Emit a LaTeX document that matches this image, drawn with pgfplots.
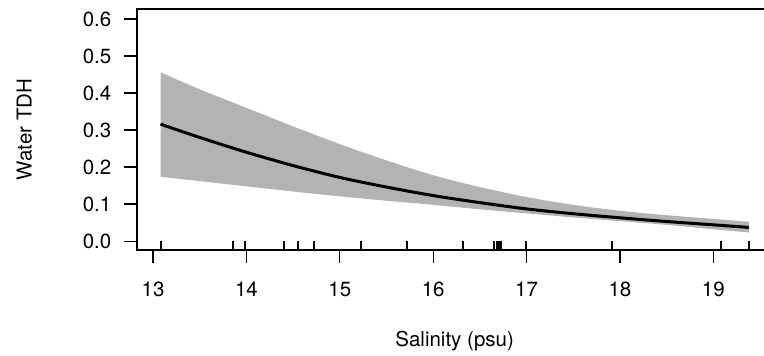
\documentclass[border=0pt]{standalone}
\usepackage{pgfplots}
\pgfplotsset{compat=1.18}
\usepackage{pgfplotstable}
\usepgfplotslibrary{fillbetween}
\usepackage{fontspec}
\setmainfont{TeX Gyre Heros}
\definecolor{bandgray}{RGB}{179,179,179}
\newcommand{\lblfont}{\fontsize{20.5}{24}\selectfont}

\pgfplotstableread{
x curve upper lower
13.08 0.316 0.456 0.174
13.5 0.280 0.410 0.162
14.0 0.240 0.360 0.148
14.5 0.204 0.310 0.134
15.0 0.172 0.262 0.121
15.5 0.146 0.218 0.109
16.0 0.123 0.178 0.098
16.5 0.104 0.146 0.086
17.0 0.087 0.119 0.075
17.5 0.074 0.098 0.064
18.0 0.063 0.082 0.054
18.5 0.053 0.070 0.044
19.0 0.044 0.060 0.032
19.38 0.037 0.052 0.0235
}\fit

\pgfplotstableread{
x y
13.082 -0.0118
13.854 -0.0118
13.983 -0.0118
14.404 -0.0118
14.55 -0.0118
14.729 -0.0118
15.232 -0.0118
15.715 -0.0118
16.32 -0.0118
16.65 -0.0118
16.68 -0.0118
16.70 -0.0118
16.73 -0.0118
16.99 -0.0118
17.91 -0.0118
19.08 -0.0118
19.38 -0.0118
}\rug

\begin{document}
\lblfont
\begin{tikzpicture}[x=1pt,y=1pt]
\begin{axis}[
  at={(0,0)}, anchor=south west,
  scale only axis, width=635.3pt, height=241pt,
  xmin=12.828, xmax=19.632, ymin=-0.024, ymax=0.627,
  axis line style={line width=1.2pt},
  every tick/.style={line width=1.2pt, black},
  tick align=outside, major tick length=12.7pt,
  xtick={13,14,15,16,17,18,19},
  xticklabels={13,14,15,16,17,18,19},
  ytick={0,0.1,0.2,0.3,0.4,0.5,0.6},
  yticklabels={0.0,0.1,0.2,0.3,0.4,0.5,0.6},
  xtick pos=bottom, ytick pos=left,
  xticklabel style={font=\lblfont, yshift=-12.5pt},
  yticklabel style={font=\lblfont, xshift=-6pt},
  xlabel={Salinity (psu)}, ylabel={Water TDH},
  xlabel style={at={(axis description cs:0.5,-0.4025)}, anchor=base, font=\lblfont},
  ylabel style={at={(axis description cs:-0.1657,0.5)}, anchor=base, rotate=0, font=\lblfont},
]
\addplot[name path=up, draw=none, smooth] table[x=x, y=upper] {\fit};
\addplot[name path=lo, draw=none, smooth] table[x=x, y=lower] {\fit};
\addplot[bandgray, draw=none] fill between[of=up and lo];
\addplot[black, line width=3pt, smooth] table[x=x, y=curve] {\fit};
\addplot[only marks, mark=|, mark size=4.5pt, mark options={line width=2pt, black}] table[x=x, y=y] {\rug};
\end{axis}
\pgfresetboundingbox
\useasboundingbox (-137,-106) rectangle (627,250);
\end{tikzpicture}
\end{document}
